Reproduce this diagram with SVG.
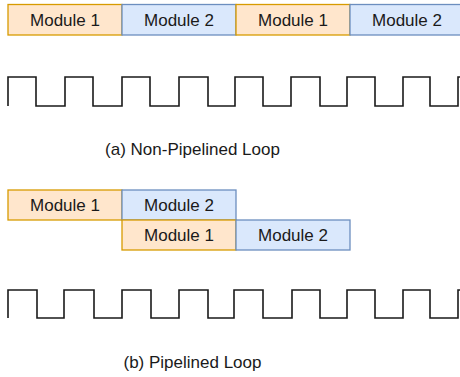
<svg xmlns="http://www.w3.org/2000/svg" width="460" height="377" viewBox="0 0 460 377">
<style>
.m1{fill:#ffe6cc;stroke:#d79b00;stroke-width:1.3}
.m2{fill:#dae8fc;stroke:#6c8ebf;stroke-width:1.3}
.t{font-family:"Liberation Sans",Arial,sans-serif;font-size:17px;fill:#1a1a1a;text-anchor:middle}
.w{fill:none;stroke:#1a1a1a;stroke-width:1.6}
</style>
<rect width="460" height="377" fill="#ffffff"/>
<g id="top-m1a"><rect class="m1" x="8" y="4.5" width="114" height="30.5"/><text class="t" x="65" y="26">Module 1</text></g>
<g id="top-m2a"><rect class="m2" x="122" y="4.5" width="114" height="30.5"/><text class="t" x="179" y="26">Module 2</text></g>
<g id="top-m1b"><rect class="m1" x="236" y="4.5" width="114" height="30.5"/><text class="t" x="293" y="26">Module 1</text></g>
<g id="top-m2b"><rect class="m2" x="350" y="4.5" width="114" height="30.5"/><text class="t" x="407" y="26">Module 2</text></g>
<g id="wave-a"><path class="w" d="M8,106 V77 H36 V106 H65 V77 H93 V106 H122 V77 H150 V106 H179 V77 H208 V106 H235 V77 H263 V106 H291 V77 H320 V106 H347 V77 H375 V106 H403 V77 H430 V106 H458 V77 H462"/></g>
<g id="caption-a"><text class="t" x="192.5" y="155">(a) Non-Pipelined Loop</text></g>
<g id="bot-m1a"><rect class="m1" x="8" y="190" width="114" height="30"/><text class="t" x="65" y="211">Module 1</text></g>
<g id="bot-m2a"><rect class="m2" x="122" y="190" width="114" height="30"/><text class="t" x="179" y="211">Module 2</text></g>
<g id="bot-m1b"><rect class="m1" x="122" y="220" width="114" height="30"/><text class="t" x="179" y="241">Module 1</text></g>
<g id="bot-m2b"><rect class="m2" x="236" y="220" width="114" height="30"/><text class="t" x="293" y="241">Module 2</text></g>
<g id="wave-b"><path class="w" d="M8,318 V290 H37 V318 H64 V290 H94 V318 H122 V290 H151 V318 H179 V290 H208 V318 H234 V290 H263 V318 H292 V290 H320 V318 H347 V290 H375 V318 H403 V290 H430 V318 H458 V290 H462"/></g>
<g id="caption-b"><text class="t" x="192.5" y="368">(b) Pipelined Loop</text></g>
<g id="connectors"></g>
</svg>
